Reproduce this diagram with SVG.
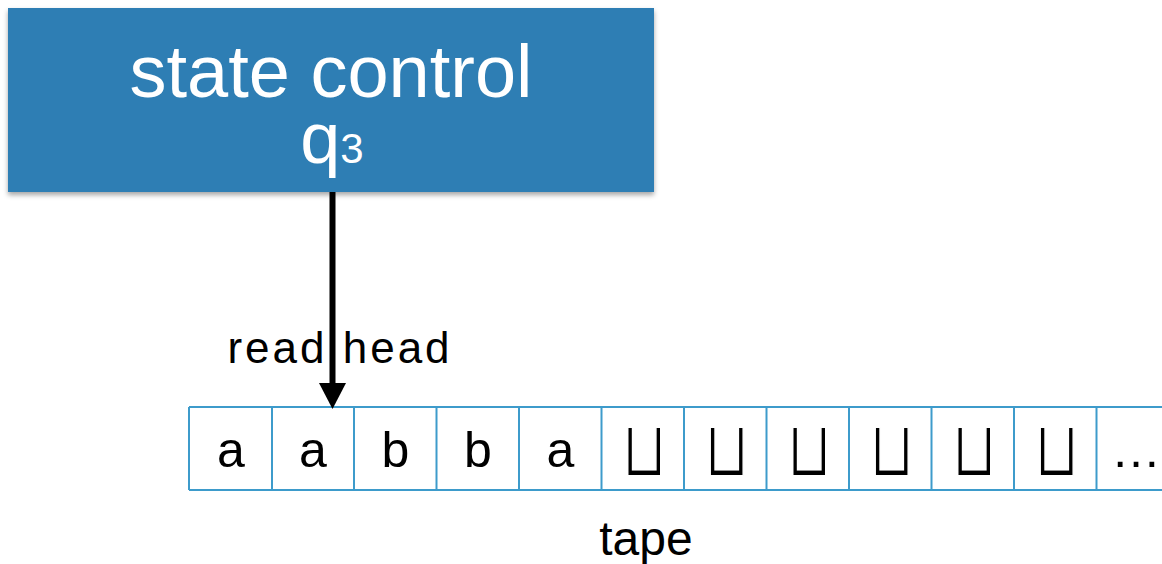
<svg xmlns="http://www.w3.org/2000/svg" width="1162" height="564" viewBox="0 0 1162 564">
<style>
.lbl{font-family:"Liberation Sans",Arial,sans-serif;fill:#000;text-anchor:middle}
.white{font-family:"Liberation Sans",Arial,sans-serif;fill:#fff;text-anchor:middle}
.sym{font-family:"Liberation Sans",Arial,sans-serif;font-size:50px;fill:#000;text-anchor:middle}
.blank{font-family:"DejaVu Sans",sans-serif;font-size:58px;fill:#000;stroke:#fff;stroke-width:1.4;text-anchor:middle}
.tl{stroke:#3d9bcb;stroke-width:2}
</style>
<defs>
<filter id="sh" x="-5%" y="-10%" width="110%" height="125%">
<feDropShadow dx="0" dy="3" stdDeviation="2.5" flood-color="#000" flood-opacity="0.35"/>
</filter>
</defs>
<g id="state-control">
<rect x="8" y="8" width="646" height="184" fill="#2f7eb4" filter="url(#sh)"/>
<text class="white" x="331" y="97" font-size="74">state control</text>
<text class="white" x="332" y="163" font-size="72">q<tspan font-size="42">3</tspan></text>
</g>
<g id="read-head-label">
<text class="lbl" x="340" y="363" font-size="44" letter-spacing="3">read head</text>
</g>
<g id="tape">
<line class="tl" x1="189" y1="407" x2="1162" y2="407"/>
<line class="tl" x1="189" y1="490" x2="1162" y2="490"/>
<g class="tl">
<line x1="189" y1="407" x2="189" y2="490"/>
<line x1="272" y1="407" x2="272" y2="490"/>
<line x1="354" y1="407" x2="354" y2="490"/>
<line x1="436.5" y1="407" x2="436.5" y2="490"/>
<line x1="519" y1="407" x2="519" y2="490"/>
<line x1="601.5" y1="407" x2="601.5" y2="490"/>
<line x1="684" y1="407" x2="684" y2="490"/>
<line x1="766.5" y1="407" x2="766.5" y2="490"/>
<line x1="849" y1="407" x2="849" y2="490"/>
<line x1="931.5" y1="407" x2="931.5" y2="490"/>
<line x1="1014" y1="407" x2="1014" y2="490"/>
<line x1="1096.5" y1="407" x2="1096.5" y2="490"/>
</g>
<text class="sym" x="231" y="467">a</text>
<text class="sym" x="313" y="467">a</text>
<text class="sym" x="395.5" y="467">b</text>
<text class="sym" x="478" y="467">b</text>
<text class="sym" x="560.5" y="467">a</text>
<text class="blank" transform="translate(644,476) scale(1,1.35)">⊔</text>
<text class="blank" transform="translate(726.5,476) scale(1,1.35)">⊔</text>
<text class="blank" transform="translate(809,476) scale(1,1.35)">⊔</text>
<text class="blank" transform="translate(891.5,476) scale(1,1.35)">⊔</text>
<text class="blank" transform="translate(974,476) scale(1,1.35)">⊔</text>
<text class="blank" transform="translate(1056.5,476) scale(1,1.35)">⊔</text>
<text class="sym" x="1136" y="467" font-size="48">…</text>
</g>
<g id="tape-label">
<text class="lbl" x="646" y="555" font-size="48">tape</text>
</g>
<g id="connectors">
<line x1="332.5" y1="192" x2="332.5" y2="386" stroke="#000" stroke-width="6"/>
<polygon points="319,383 346,383 332.5,409" fill="#000"/>
</g>
</svg>
